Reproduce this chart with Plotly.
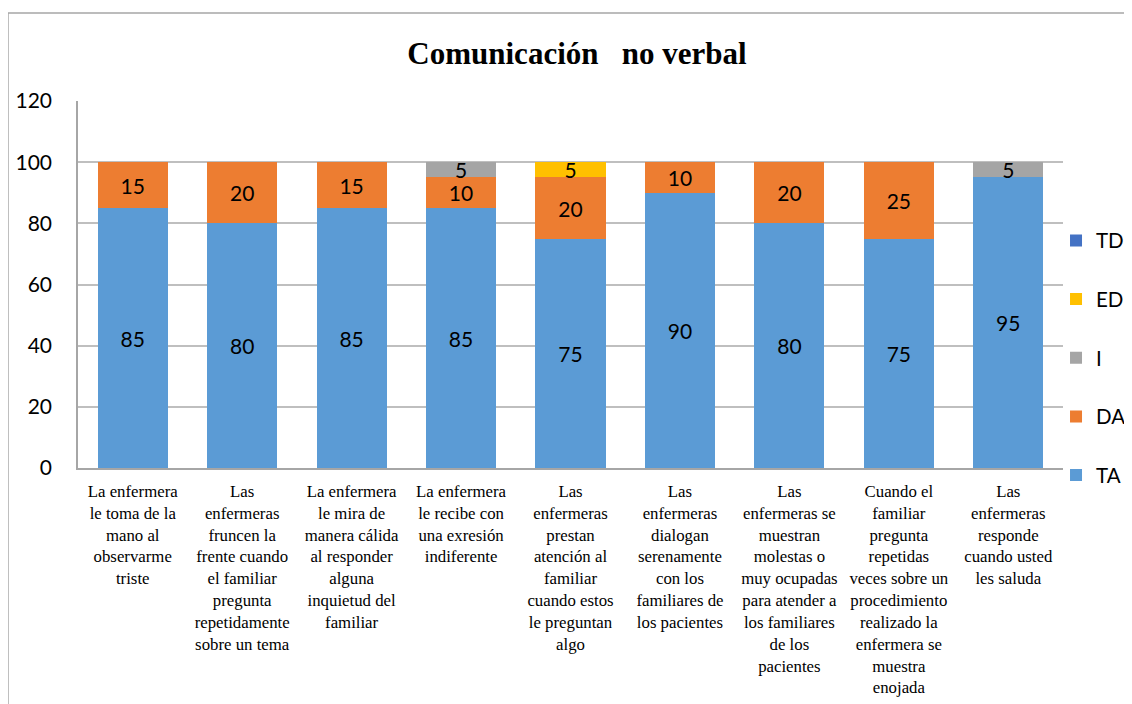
"""
Stacked bar chart: Comunicación no verbal.
"""

import plotly.graph_objects as go

CATEGORIES = [
    "La enfermera<br>le toma de la<br>mano al<br>observarme<br>triste",
    "Las<br>enfermeras<br>fruncen la<br>frente cuando<br>el familiar<br>pregunta<br>repetidamente<br>sobre un tema",
    "La enfermera<br>le mira de<br>manera cálida<br>al responder<br>alguna<br>inquietud del<br>familiar",
    "La enfermera<br>le recibe con<br>una exresión<br>indiferente",
    "Las<br>enfermeras<br>prestan<br>atención al<br>familiar<br>cuando estos<br>le preguntan<br>algo",
    "Las<br>enfermeras<br>dialogan<br>serenamente<br>con los<br>familiares de<br>los pacientes",
    "Las<br>enfermeras se<br>muestran<br>molestas o<br>muy ocupadas<br>para atender a<br>los familiares<br>de los<br>pacientes",
    "Cuando el<br>familiar<br>pregunta<br>repetidas<br>veces sobre un<br>procedimiento<br>realizado la<br>enfermera se<br>muestra<br>enojada",
    "Las<br>enfermeras<br>responde<br>cuando usted<br>les saluda",
]

TA = [85, 80, 85, 85, 75, 90, 80, 75, 95]
DA = [15, 20, 15, 10, 20, 10, 20, 25, 0]
I = [0, 0, 0, 5, 0, 0, 0, 0, 5]
ED = [0, 0, 0, 0, 5, 0, 0, 0, 0]
TD = [0, 0, 0, 0, 0, 0, 0, 0, 0]

SERIES = [
    ("TA", TA, "#5B9BD5", 5),
    ("DA", DA, "#ED7D31", 4),
    ("I", I, "#A5A5A5", 3),
    ("ED", ED, "#FFC000", 2),
    ("TD", TD, "#4472C4", 1),
]

LABEL_FONT = "Lato, Calibri, sans-serif"
SERIF_FONT = "Liberation Serif, Times New Roman, serif"

fig = go.Figure()

for name, values, color, rank in SERIES:
    fig.add_trace(
        go.Bar(
            name=name,
            x=CATEGORIES,
            y=values,
            marker={"color": color, "line": {"width": 0}},
            text=[str(v) if v else "" for v in values],
            textposition="inside",
            insidetextanchor="middle",
            textangle=0,
            textfont={"family": LABEL_FONT, "size": 21, "color": "#000000"},
            legendgroup=name,
            legendrank=rank,
            hovertemplate=f"{name}: %{{y}}<extra></extra>",
        )
    )

# Outer chart border (left and top edges visible in the reference)
fig.add_shape(type="line", xref="paper", yref="paper",
              x0=-0.0711, x1=-0.0711, y0=1.2398, y1=-1.0,
              line={"color": "#A6A6A6", "width": 1.5})
fig.add_shape(type="line", xref="paper", yref="paper",
              x0=-0.0711, x1=1.2, y0=1.2398, y1=1.2398,
              line={"color": "#A6A6A6", "width": 1.5})

# the page body adds an 8px margin, so the figure is offset for it
fig.update_layout(
    width=1124,
    height=696,
    barmode="stack",
    bargap=0.36,
    plot_bgcolor="white",
    paper_bgcolor="white",
    margin={"l": 70, "r": 69, "t": 93, "b": 236, "autoexpand": False},
    title={
        "text": "<b>Comunicación&nbsp;&nbsp; no verbal</b>",
        "x": 0.5062,
        "xanchor": "center",
        "y": 0.9353,
        "yanchor": "middle",
        "font": {"family": SERIF_FONT, "size": 31, "color": "#000000"},
    },
    uniformtext={"mode": "show", "minsize": 21},
    xaxis={
        "showgrid": False,
        "showline": True,
        "linecolor": "#A6A6A6",
        "linewidth": 1.5,
        "tickfont": {"family": SERIF_FONT, "size": 16.8, "color": "#000000"},
        "tickangle": 0,
        "ticklabelstandoff": 7,
        "automargin": False,
    },
    yaxis={
        "range": [0, 120],
        "dtick": 20,
        "showgrid": True,
        "gridcolor": "#BFBFBF",
        "gridwidth": 1.5,
        "showline": True,
        "linecolor": "#A6A6A6",
        "linewidth": 1.5,
        "zeroline": False,
        "ticklabelstandoff": 20,
        "tickfont": {"family": LABEL_FONT, "size": 21, "color": "#000000"},
        "automargin": False,
    },
    legend={
        "xref": "container",
        "yref": "container",
        "x": 0.9324,
        "xanchor": "left",
        "y": 0.6945,
        "yanchor": "top",
        "traceorder": "grouped",
        "tracegroupgap": 29,
        "font": {"family": LABEL_FONT, "size": 20.5, "color": "#000000"},
        "bgcolor": "rgba(0,0,0,0)",
    },
    showlegend=True,
)

fig.write_html("out.html")
